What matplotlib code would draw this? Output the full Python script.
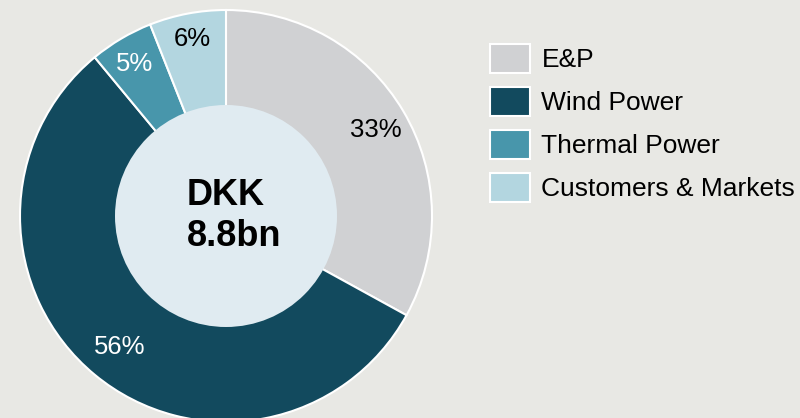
import matplotlib
matplotlib.use("Agg")
import matplotlib.pyplot as plt
from matplotlib.patches import Circle
import numpy as np

plt.rcParams['font.family'] = ['Liberation Sans', 'DejaVu Sans']

labels = ["E&P", "Wind Power", "Thermal Power", "Customers & Markets"]
values = [33, 56, 5, 6]
colors = ["#d0d1d3", "#124a5e", "#4896ab", "#b3d6e0"]
pct_colors = ["black", "white", "white", "black"]
center_text = "DKK\n8.8bn"

W, H = 800, 418
fig = plt.figure(figsize=(W/100, H/100), dpi=100)
bg = "#e8e8e4"
fig.patch.set_facecolor(bg)

cx, cy, R = 226, 216, 206
ax = fig.add_axes([(cx-R)/W, (H-cy-R)/H, 2*R/W, 2*R/H])
ax.set_facecolor(bg)
wedges, texts = ax.pie(values, startangle=90, counterclock=False, colors=colors,
                       radius=1, wedgeprops=dict(edgecolor="white", linewidth=1.5))
label_r = [0.845, 0.81, 0.87, 0.885]
for w, v, c, r in zip(wedges, values, pct_colors, label_r):
    ang = np.deg2rad((w.theta1 + w.theta2) / 2)
    ax.text(r*np.cos(ang), r*np.sin(ang), f"{v}%", ha="center", va="center_baseline",
            fontsize=18.5, color=c)
ax.add_patch(Circle((0, 0), 111/206, facecolor="#e0ebf1", edgecolor="none", zorder=5))
ax.text((187-cx)/R, 0.0, center_text, ha="left", va="center", multialignment="left",
        fontsize=26, fontweight="bold", color="black", zorder=6, linespacing=1.25)
ax.set_xlim(-1, 1)
ax.set_ylim(-1, 1)
ax.set_aspect("equal")
ax.axis("off")

fs = 19
leg = fig.legend(wedges, labels, loc="upper left", bbox_to_anchor=(490/W, 1 - 44/H),
                 frameon=False, fontsize=fs, handlelength=1.5, handleheight=1.3,
                 labelspacing=0.54, handletextpad=0.45, borderaxespad=0, borderpad=0)
fig.savefig("out.png", dpi=100, facecolor=bg)
